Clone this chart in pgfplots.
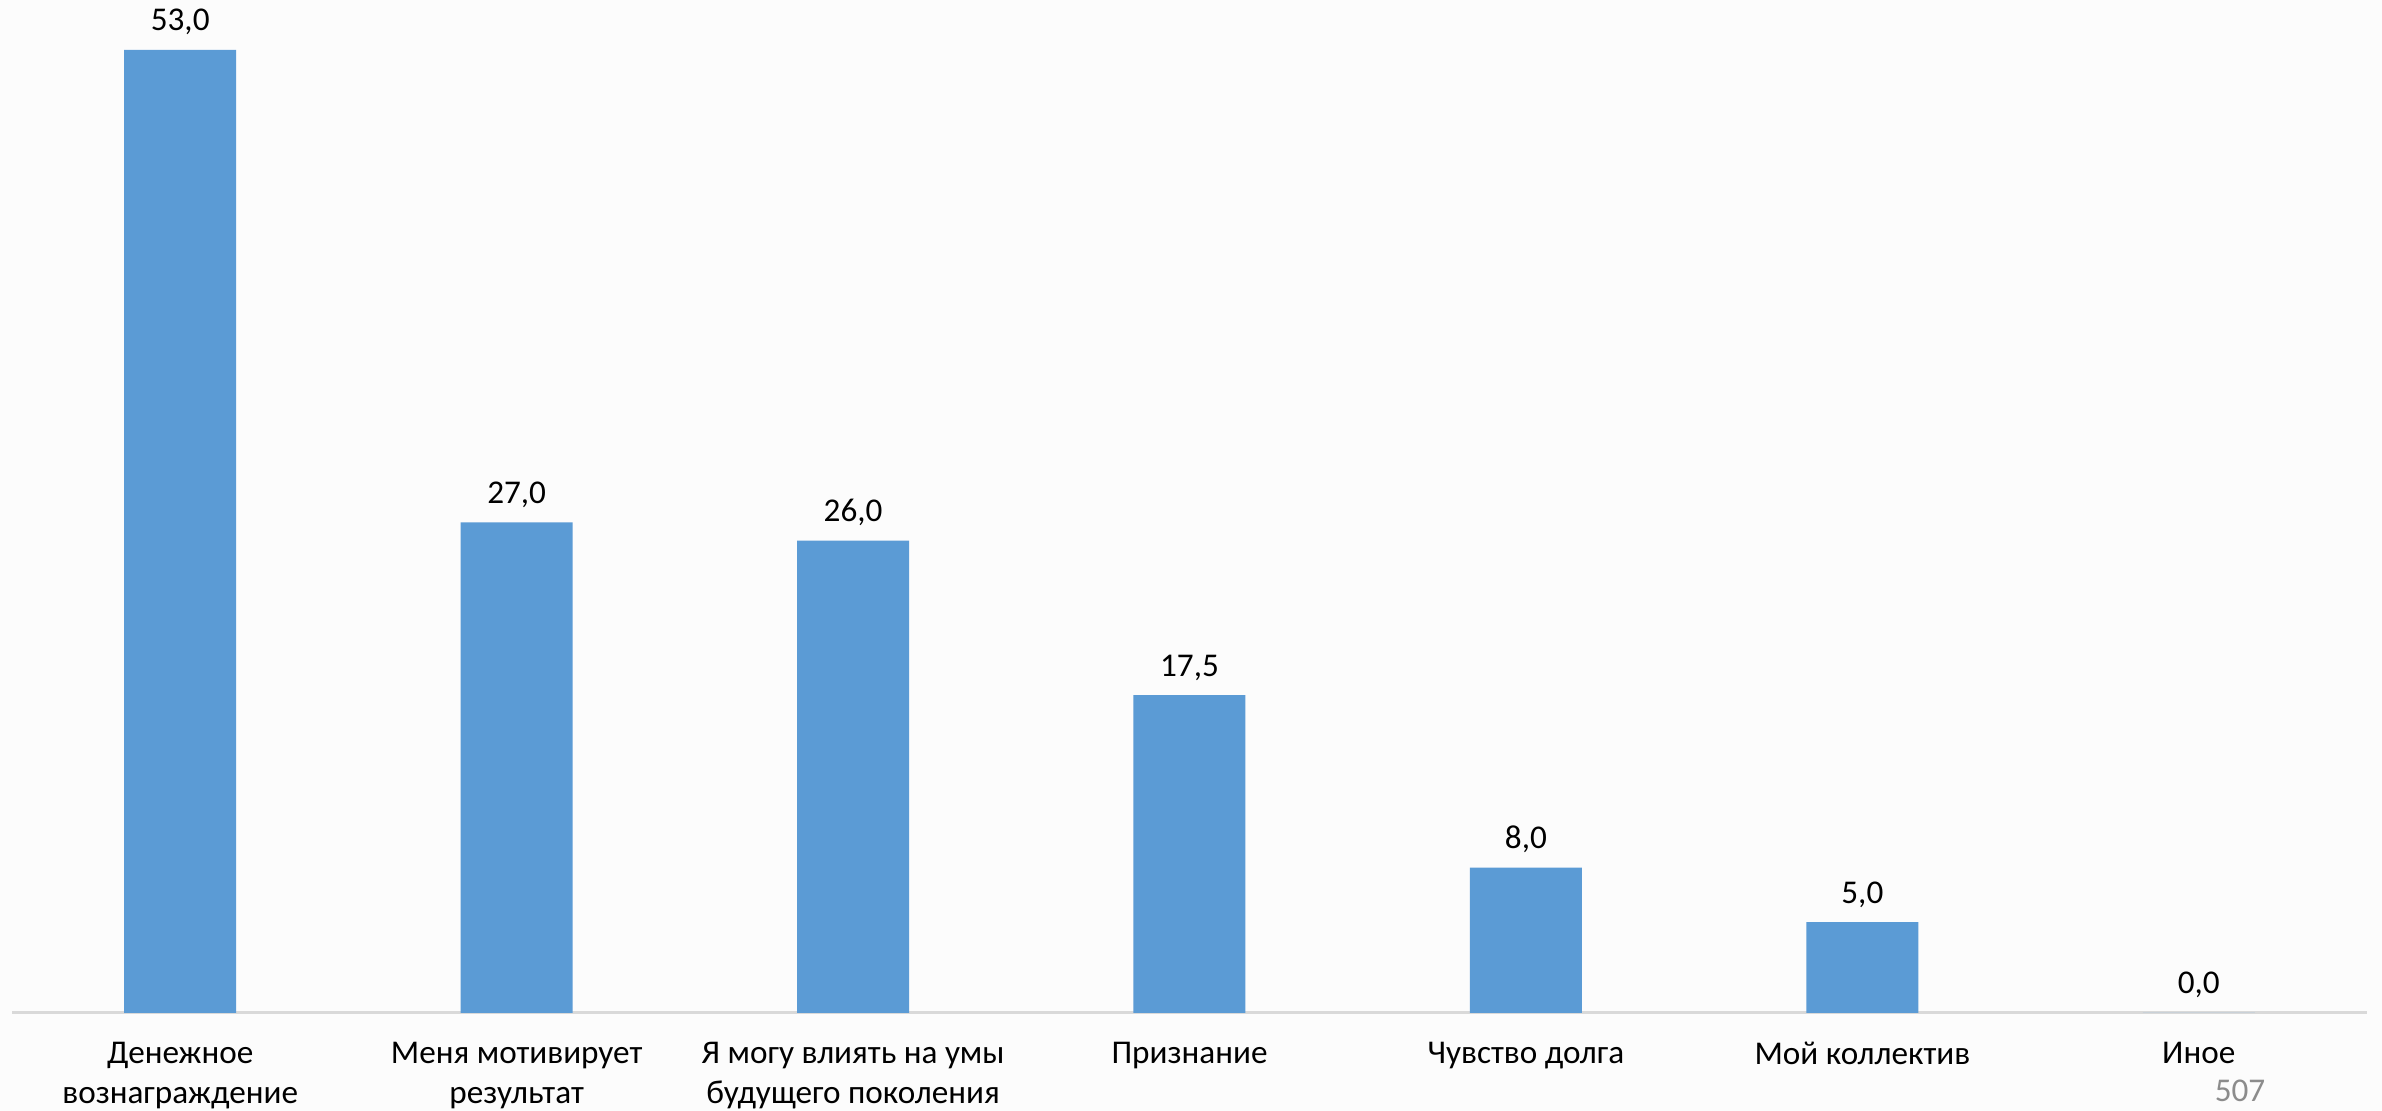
\documentclass[border=0pt]{standalone}
\usepackage{pgfplots}
\pgfplotsset{compat=1.18}
\usepackage{fontspec}
\setmainfont{Carlito}
\definecolor{barblue}{HTML}{5B9BD5}
\definecolor{bg}{HTML}{FCFCFC}
\definecolor{axisgray}{HTML}{D9D9D9}
\definecolor{pagegray}{HTML}{8C8C8C}
\begin{document}
\begin{tikzpicture}
\path[fill=bg] (0,0) rectangle (595.5pt,277.75pt);
\begin{axis}[
  at={(3pt,24.5pt)}, anchor=south west,
  scale only axis,
  width=588.75pt, height=253.25pt,
  xmin=-0.5, xmax=6.5, ymin=0, ymax=55.75,
  axis x line=bottom, axis y line=none,
  x axis line style={-, draw=axisgray, line width=0.75pt},
  xtick=data,
  xticklabels={{Денежное\\вознаграждение},{Меня мотивирует\\результат},{Я могу влиять на умы\\будущего поколения},{Признание},{Чувство долга},{Мой коллектив},{Иное}},
  major tick length=0pt,
  xticklabel style={font=\fontsize{8.3}{10}\selectfont, align=center, anchor=north, inner sep=0pt, yshift=-7pt},
  ytick=\empty,
  clip=false,
  ybar, bar width=28pt,
  nodes near coords,
  every node near coord/.append style={font=\fontsize{8.3}{10}\selectfont, anchor=base, inner sep=0pt, yshift=4.75pt, text=black},
  /pgf/number format/.cd, fixed, fixed zerofill, precision=1, use comma, assume math mode=true,
]
\addplot[fill=barblue, draw=none] coordinates {(0,53) (1,27) (2,26) (3,17.5) (4,8) (5,5) (6,0)};
\end{axis}
\node[anchor=base, text=pagegray, font=\fontsize{8.3}{10}\selectfont, inner sep=0pt] at (560pt,2.25pt) {507};
\end{tikzpicture}
\end{document}
